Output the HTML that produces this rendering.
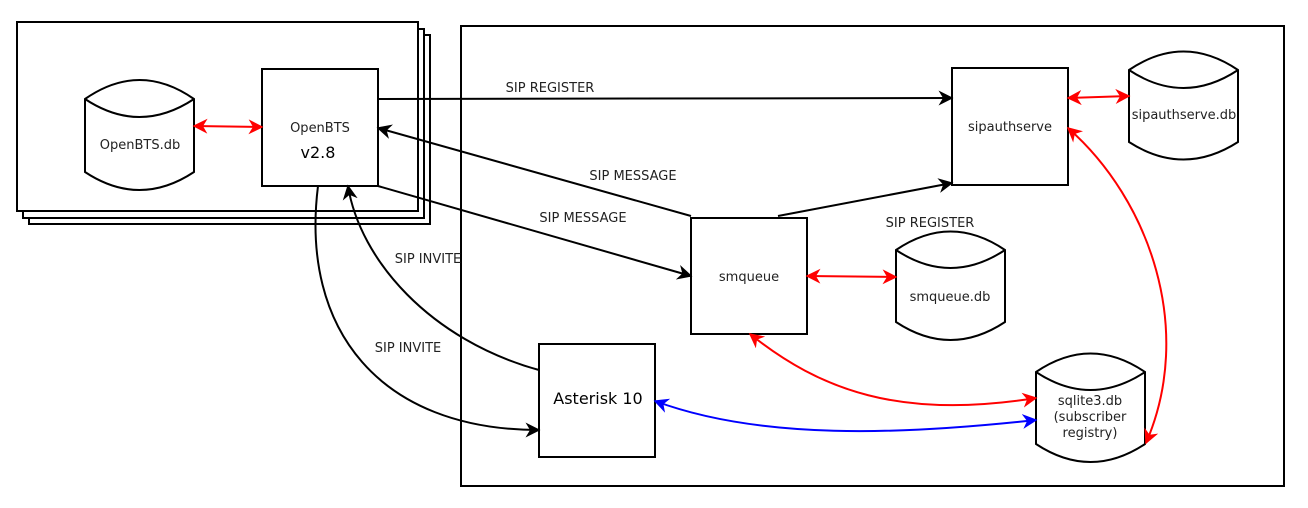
<!DOCTYPE html>
<html><head><meta charset="utf-8"><style>html,body{margin:0;padding:0;background:#fff}svg{display:block}text{font-family:"DejaVu Sans","Liberation Sans",sans-serif;font-size:13px;fill:#222}</style></head><body>
<svg width="1308" height="508" viewBox="0 0 1308 508" xmlns="http://www.w3.org/2000/svg">
<defs>
<marker id="k" viewBox="0 0 10 10" refX="9" refY="5" markerWidth="15" markerHeight="15" markerUnits="userSpaceOnUse" orient="auto-start-reverse"><path d="M0,0 L10,5 L0,10 L3,5z" fill="#000"/></marker>
<marker id="r" viewBox="0 0 10 10" refX="9" refY="5" markerWidth="15" markerHeight="15" markerUnits="userSpaceOnUse" orient="auto-start-reverse"><path d="M0,0 L10,5 L0,10 L3,5z" fill="#f00"/></marker>
<marker id="b" viewBox="0 0 10 10" refX="9" refY="5" markerWidth="15" markerHeight="15" markerUnits="userSpaceOnUse" orient="auto-start-reverse"><path d="M0,0 L10,5 L0,10 L3,5z" fill="#00f"/></marker>
</defs>
<g fill="#fff" stroke="#000" stroke-width="2">
<rect x="29" y="35" width="401" height="189"/>
<rect x="23" y="29" width="401" height="189"/>
<rect x="17" y="22" width="401" height="189"/>
<rect x="461" y="26" width="823" height="460"/>
<rect x="262" y="69" width="116" height="117"/>
<rect x="952" y="68" width="116" height="117"/>
<rect x="691" y="218" width="116" height="116"/>
<rect x="539" y="344" width="116" height="113"/>
<path d="M85,99 Q139.5,61 194,99 L194,172 Q139.5,208 85,172 Z M85,99 Q139.5,135 194,99"/>
<path d="M1129,70 Q1183.5,33 1238,70 L1238,142 Q1183.5,177 1129,142 Z M1129,70 Q1183.5,106 1238,70"/>
<path d="M896,250 Q950.5,213 1005,250 L1005,322 Q950.5,358 896,322 Z M896,250 Q950.5,286 1005,250"/>
<path d="M1036,372 Q1090.5,335 1145,372 L1145,444 Q1090.5,480 1036,444 Z M1036,372 Q1090.5,408 1145,372"/>
</g>
<g fill="none" stroke-width="2">
<line x1="194" y1="126" x2="262" y2="127" stroke="#f00" marker-start="url(#r)" marker-end="url(#r)"/>
<line x1="1068" y1="98" x2="1129" y2="96" stroke="#f00" marker-start="url(#r)" marker-end="url(#r)"/>
<line x1="807" y1="276" x2="896" y2="277" stroke="#f00" marker-start="url(#r)" marker-end="url(#r)"/>
<path d="M750,334 C820,390 900,420 1036,398" stroke="#f00" marker-start="url(#r)" marker-end="url(#r)"/>
<path d="M1068,128 C1150,200 1195,330 1146,443" stroke="#f00" marker-start="url(#r)" marker-end="url(#r)"/>
<path d="M655,401 C760,440 900,435 1036,420" stroke="#00f" marker-start="url(#b)" marker-end="url(#b)"/>
<line x1="378" y1="99" x2="952" y2="98" stroke="#000" marker-end="url(#k)"/>
<line x1="691" y1="216" x2="378" y2="128" stroke="#000" marker-end="url(#k)"/>
<line x1="378" y1="186" x2="691" y2="276" stroke="#000" marker-end="url(#k)"/>
<line x1="778" y1="216" x2="952" y2="183" stroke="#000" marker-end="url(#k)"/>
<path d="M539,370 C430,340 360,260 348,186" stroke="#000" marker-end="url(#k)"/>
<path d="M318,186 C300,330 380,430 539,430" stroke="#000" marker-end="url(#k)"/>
</g>
<g text-anchor="middle">
<text x="320" y="132">OpenBTS</text>
<text x="318" y="158" style="font-size:16px;fill:#000">v2.8</text>
<text x="140" y="149">OpenBTS.db</text>
<text x="1010" y="131">sipauthserve</text>
<text x="1184" y="119">sipauthserve.db</text>
<text x="749" y="281">smqueue</text>
<text x="950" y="301">smqueue.db</text>
<text x="598" y="404" style="font-size:16px;fill:#000">Asterisk 10</text>
<text x="1090" y="405">sqlite3.db</text>
<text x="1090" y="421">(subscriber</text>
<text x="1090" y="437">registry)</text>
<text x="550" y="92">SIP REGISTER</text>
<text x="633" y="180">SIP MESSAGE</text>
<text x="583" y="222">SIP MESSAGE</text>
<text x="930" y="227">SIP REGISTER</text>
<text x="428" y="263">SIP INVITE</text>
<text x="408" y="352">SIP INVITE</text>
</g>
</svg>
</body></html>
